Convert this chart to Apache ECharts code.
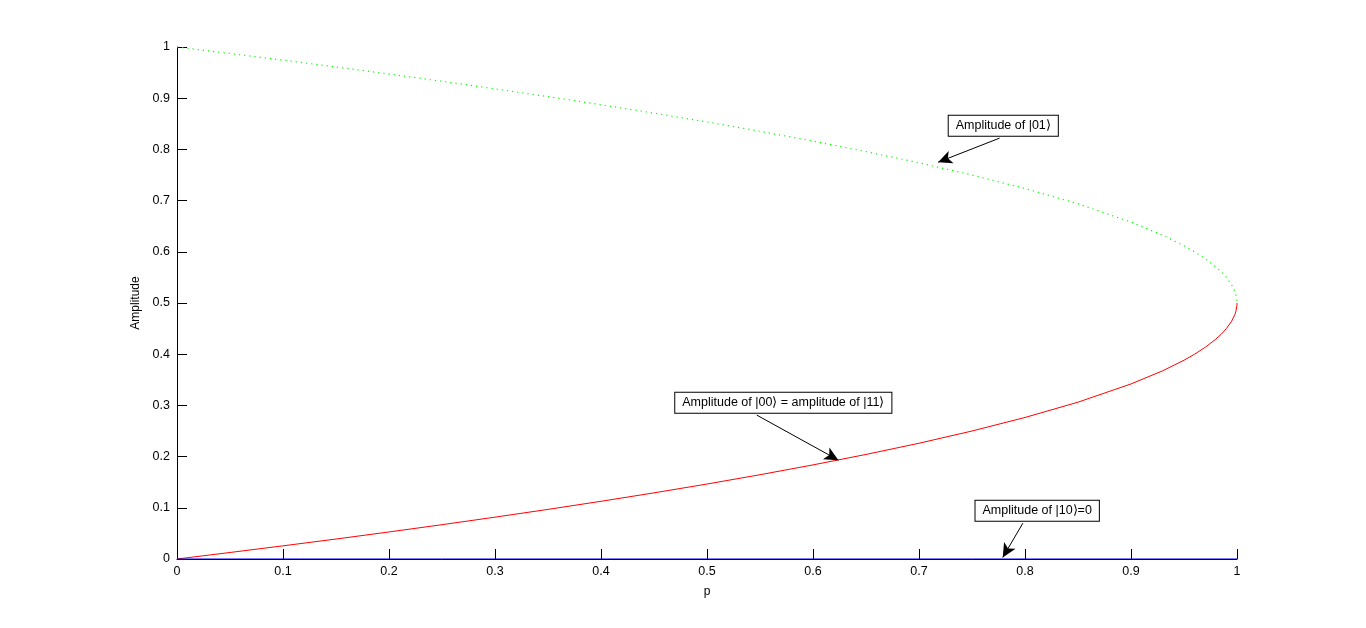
<!DOCTYPE html>
<html><head><meta charset="utf-8">
<script src="https://cdn.jsdelivr.net/npm/echarts@6/dist/echarts.min.js"></script>
<style>html,body{margin:0;padding:0;background:#fff}#c{width:1366px;height:628px}</style>
</head><body><div id="c"></div>
<script>
// Data
var pValues = [0,0.05,0.1,0.15,0.2,0.25,0.3,0.35,0.4,0.45,0.5,0.55,0.6,0.65,0.7,0.75,0.8,0.85,0.9,0.93,0.95,0.96,0.97,0.98,0.985,0.99,0.995,0.998,0.999,0.9999,1];
var amp00 = [0,0.0127,0.0257,0.0390,0.0528,0.0670,0.0817,0.0969,0.1127,0.1292,0.1464,0.1646,0.1838,0.2042,0.2261,0.25,0.2764,0.3063,0.3419,0.3677,0.3882,0.4,0.4134,0.4293,0.4388,0.45,0.4646,0.4776,0.4842,0.495,0.5];
var amp01 = [1,0.9873,0.9743,0.9610,0.9472,0.9330,0.9183,0.9031,0.8873,0.8708,0.8536,0.8354,0.8162,0.7958,0.7739,0.75,0.7236,0.6937,0.6581,0.6323,0.6118,0.6,0.5866,0.5707,0.5612,0.55,0.5354,0.5224,0.5158,0.505,0.5];
var amp10P = [0,1];
var amp10 = [0,0];
var annotationTexts = ['Amplitude of |01\u27E9', 'Amplitude of |00\u27E9 = amplitude of |11\u27E9', 'Amplitude of |10\u27E9=0'];
// annotation placement (data coordinates)
var annotationBox = [[0.7795,0.846],[0.572,0.305],[0.8115,0.094]];
var arrowTail = [[0.776,0.822],[0.547,0.281],[0.798,0.070]];
var arrowTip = [[0.718,0.775],[0.624,0.193],[0.779,0.003]];

function pairs(xs, ys){ return xs.map(function(x,i){return [x, ys[i]];}); }

var font = 'Liberation Sans, Arial, sans-serif';
var chart = echarts.init(document.getElementById('c'));
chart.setOption({
  animation: false,
  backgroundColor: '#fff',
  grid: {left: 177, right: 129, top: 47, bottom: 69},
  xAxis: {
    type: 'value', min: 0, max: 1, interval: 0.1,
    name: 'p', nameLocation: 'middle', nameGap: 27,
    nameTextStyle: {color: '#000', fontSize: 12, fontFamily: font},
    axisLine: {lineStyle: {color: '#000', width: 1}},
    axisTick: {inside: true, length: 10, lineStyle: {color: '#000'}},
    axisLabel: {color: '#000', fontSize: 12.5, fontFamily: font, margin: 6},
    splitLine: {show: false}
  },
  yAxis: {
    type: 'value', min: 0, max: 1, interval: 0.1,
    name: 'Amplitude', nameLocation: 'middle', nameGap: 26, nameRotate: 90,
    nameTextStyle: {color: '#000', fontSize: 12, fontFamily: font},
    axisLine: {lineStyle: {color: '#000', width: 1}},
    axisTick: {inside: true, length: 10, lineStyle: {color: '#000'}},
    axisLabel: {color: '#000', fontSize: 12.5, fontFamily: font, margin: 7},
    splitLine: {show: false}
  },
  series: [
    {
      type: 'line', name: 'amp00', data: pairs(pValues, amp00), showSymbol: false,
      lineStyle: {color: '#ff0000', width: 1}, z: 3
    },
    {
      type: 'line', name: 'amp01', data: pairs(pValues, amp01), showSymbol: false,
      lineStyle: {color: '#00ff00', width: 1.2, type: [1.2, 4]}, z: 3
    },
    {
      type: 'line', name: 'amp10', data: pairs(amp10P, amp10), showSymbol: false,
      lineStyle: {color: '#0000ff', width: 1}, z: 4,
      markLine: {
        silent: true, symbol: ['none', 'arrow'], symbolSize: [10, 14],
        lineStyle: {color: '#000', width: 1, type: 'solid'},
        label: {show: false},
        data: arrowTail.map(function(t, i){ return [{coord: t}, {coord: arrowTip[i]}]; })
      },
      markPoint: {
        silent: true, symbol: 'rect', symbolSize: 0,
        label: {
          show: true, position: 'inside', color: '#000', fontSize: 12.5, fontFamily: font,
          backgroundColor: '#fff', borderColor: '#000', borderWidth: 1, padding: [4, 7, 3, 7],
          formatter: function(p){ return p.name; }
        },
        data: annotationTexts.map(function(t, i){ return {name: t, coord: annotationBox[i]}; })
      }
    }
  ]
});
</script></body></html>
